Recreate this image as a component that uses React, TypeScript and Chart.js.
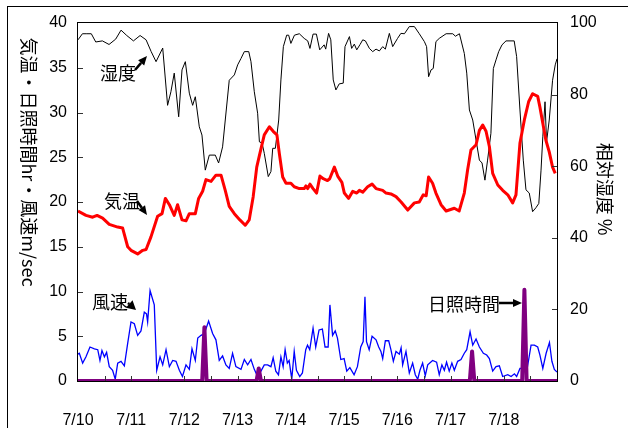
import React, { useEffect, useRef } from 'react';
import { Chart, registerables } from 'chart.js';
Chart.register(...registerables);

// hours since 7/10 00:00
const dateLabels = ['7/10', '7/11', '7/12', '7/13', '7/14', '7/15', '7/16', '7/17', '7/18'];

const humidity: [number, number][] = [
  [0, 95.3], [2, 97], [4, 97], [6, 97], [8, 94.7], [11, 95], [14, 94], [17, 95.5], [19.4, 98], [22, 96.5],
  [25, 95], [28, 96.5], [30.7, 95.3], [33, 92], [35.2, 89.2], [38.2, 93], [40.4, 77], [41.9, 80.8], [43.4, 86],
  [45.4, 73.8], [46.9, 86.9], [48.4, 89.2], [50.2, 80.4], [51.7, 77], [52.9, 79.4], [54.7, 71], [55.9, 68.7],
  [57.4, 58.9], [59.2, 63.1], [61.9, 63.1], [63.4, 60.9], [65.2, 65.4], [68.2, 84], [70.5, 85.5], [72, 88.3],
  [73.5, 90.1], [75, 92], [77, 92], [78, 89.2], [79.5, 80.8], [81, 74.8], [81.8, 66.8], [83, 66.5], [84, 63.6],
  [85.8, 57.1], [87, 58.5], [87.8, 65], [89, 65], [90.5, 72.9], [91.5, 84.1], [92.6, 93.4], [94.1, 96.6],
  [95, 96.6], [96, 94.3], [97.6, 96.6], [99.8, 97], [102, 95.7], [103.6, 95], [104.6, 92.9], [106, 96.9],
  [107.5, 96.9], [109, 92.5], [111, 93.9], [111.7, 92.7], [113, 97.1], [114, 95.3], [115.1, 84.1], [116.3, 81.3],
  [117.8, 83], [119.6, 83.2], [120.4, 93.4], [122.4, 96.2], [123.4, 92.9], [124.6, 94.1], [125.7, 92.5],
  [127.2, 94], [128.4, 95.3], [129.6, 95], [131.4, 92.9], [132.9, 92], [134.4, 92.7], [135.9, 92.2],
  [137.4, 93.4], [138.6, 92.7], [140.4, 97.1], [141.9, 93.4], [144.1, 95.7], [145.6, 97.1], [147.2, 97],
  [149.4, 99], [151.7, 99], [153.9, 97], [156.2, 94.8], [157.2, 93.4], [158.1, 85], [159.2, 86.9], [160.2, 87.3],
  [161.4, 94.8], [162.9, 95.7], [166, 97], [169, 97], [170.2, 96.3], [172, 97], [174.2, 91.5], [175.3, 86],
  [176.5, 75.7], [178, 72.9], [179.5, 67.3], [181, 61.7], [182.2, 60.9], [183.5, 56.1], [184.7, 61.7],
  [186.2, 69.2], [187.3, 87.3], [188.5, 89.7], [189.7, 92], [191.2, 93.9], [193, 95], [196.7, 95], [197.8, 90.6],
  [199.3, 75.7], [200.8, 61.7], [202, 53.4], [203.5, 52.5], [205, 47.3], [206.5, 48.4], [207.8, 49.6],
  [208.8, 58.9], [209.6, 68.2], [210.6, 78], [211.3, 66.8], [212.5, 72.9], [214, 84], [215.2, 88.3], [216, 90],
];

const temperature: [number, number][] = [
  [0, 19.0], [3.6, 18.5], [6.6, 18.3], [8.6, 18.5], [11.1, 18.2], [14.1, 17.5], [17.9, 17.2], [20.1, 17.1],
  [22.4, 15.0], [23.9, 14.6], [26.9, 14.2], [29.2, 14.6], [30.7, 14.7], [32.9, 16.1], [35.9, 18.4], [37.9, 18.7],
  [39.4, 20.4], [41.2, 19.7], [43.4, 18.5], [44.9, 19.7], [46.9, 18.0], [48.7, 17.9], [50.2, 18.7], [52.9, 18.7],
  [54.4, 20.4], [56.2, 21.2], [57.7, 22.5], [60, 22.3], [62.2, 23.0], [64.5, 23.0], [66.4, 21.3], [68.2, 19.5],
  [70.5, 18.7], [73, 18.0], [75.4, 17.4], [77.2, 18.0], [79, 20.6], [80.6, 23.9], [82, 25.4], [84, 27.5],
  [86.3, 28.4], [88, 27.9], [89.7, 27.5], [90.8, 25.4], [92.3, 22.8], [93.8, 22.1], [96, 22.1], [97.5, 21.7],
  [99.8, 21.5], [102, 21.5], [102.8, 21.8], [103.6, 21.5], [104.6, 22.0], [106, 21.5], [107.6, 21.0],
  [109.1, 22.9], [110.6, 22.6], [112.5, 22.4], [113.5, 22.6], [115.6, 23.9], [117.1, 22.9], [119, 22.2],
  [120.1, 21.0], [122, 20.4], [123.9, 21.2], [125.7, 21.0], [126.9, 21.3], [128.4, 21.1], [130.6, 21.7],
  [132.6, 22.0], [134.4, 21.5], [137.4, 21.3], [138.9, 21.0], [141.1, 20.9], [143.4, 20.6], [145.7, 20.0],
  [148.7, 19.1], [151.7, 19.9], [153.9, 20.0], [155.7, 20.8], [157, 20.7], [158.1, 22.8], [159.9, 22.1],
  [161.4, 21.0], [163.7, 19.7], [166, 19.0], [169.7, 19.3], [171.9, 19.0], [174.2, 21.0], [175.7, 23.6],
  [177.2, 25.8], [179.5, 26.4], [181, 28.0], [182.5, 28.6], [184, 27.9], [185.5, 26.2], [187, 23.2],
  [189.3, 21.9], [191.5, 21.3], [193.8, 20.8], [196, 19.9], [197.5, 20.8], [199.3, 26.6], [201.3, 29.2],
  [203.2, 31.2], [205, 32.1], [207.3, 31.8], [208.3, 30.6], [209.6, 28.8], [211, 26.9], [212.5, 25.6],
  [214, 23.9], [215.2, 23.2],
];

const windSpeed: [number, number][] = [
  [0, 3.0], [0.6, 3.1], [2.1, 2.0], [3.6, 2.7], [5.4, 3.8], [7.4, 3.6], [8.9, 3.5], [9.9, 2.3], [10.8, 3.4],
  [11.9, 2.7], [12.9, 3.2], [14.1, 1.6], [15.6, 1.2], [16.8, 0.2], [17.9, 2.0], [19.4, 2.2], [20.9, 1.7],
  [22.4, 4.2], [23.9, 6.6], [25.4, 6.4], [26.9, 5.1], [28.4, 5.6], [29.9, 7.7], [30.9, 7.5], [31.4, 6.6],
  [32.5, 10.1], [34.4, 8.5], [35.5, 1.2], [37, 2.7], [38.2, 1.8], [39.7, 3.5], [41.2, 1.6], [42.7, 2.3],
  [44.2, 2.2], [45.7, 1.2], [47.1, 0.5], [48.7, 1.8], [50.2, 1.3], [51.4, 3.6], [52.9, 2.3], [54, 4.8],
  [55.5, 5.1], [57, 5.3], [58.9, 6.7], [60.7, 5.3], [62.2, 4.6], [63.7, 2.3], [65.2, 2.8], [66.7, 1.8],
  [68.2, 1.4], [69.7, 3.1], [71.2, 1.6], [73.5, 1.3], [75, 2.4], [76.5, 1.8], [78, 2.4], [79.5, 1.3], [81, 0.5],
  [82.5, 1.1], [84, 1.8], [85.5, 1.8], [87, 1.6], [88, 2.6], [89.2, 1.1], [90.4, 0.7], [91.5, 2.7], [92.5, 1.6],
  [93.4, 3.5], [94.4, 2.0], [95.2, 2.3], [96.4, 0.2], [97.5, 3.3], [98.5, 1.2], [100, 0.5], [101.2, 0.9],
  [102.7, 3.5], [103.5, 4.0], [104.5, 3.5], [106, 5.9], [107.2, 3.8], [108.7, 5.7], [110.2, 5.8], [111.4, 3.8],
  [112.8, 3.8], [113.6, 8.5], [114.8, 5.1], [116, 5.6], [117, 4.8], [118.5, 2.4], [120, 2.5], [121.2, 1.1],
  [122.6, 1.5], [124.5, 0.7], [126, 1.6], [127.5, 3.8], [128.6, 4.4], [129.4, 9.4], [130.1, 4.4], [131.3, 3.5],
  [132.6, 5.0], [134.4, 4.6], [135.6, 3.8], [136.6, 3.3], [137.4, 2.5], [138.6, 4.5], [140.1, 4.5], [141.1, 3.5],
  [142.2, 2.2], [143.4, 3.3], [144.9, 3.0], [145.7, 3.7], [146.4, 1.8], [147.9, 3.3], [149.4, 0.9], [150.9, 2.0],
  [152.1, 0.7], [153.2, 0.2], [154.2, 1.2], [155.4, 2.0], [156.6, 0.6], [157.7, 1.8], [159.9, 2.3], [161.7, 2.1],
  [162.9, 0.7], [164.1, 1.8], [165.2, 1.2], [166.2, 2.1], [167.4, 1.1], [168.6, 2.0], [169.7, 1.2], [171.2, 2.2],
  [172.7, 2.4], [174.2, 3.1], [175.3, 3.5], [176.8, 5.5], [178, 4.0], [179.5, 4.7], [181, 3.8], [182.8, 3.1],
  [184.3, 2.9], [185.5, 2.5], [187, 1.1], [188.5, 1.6], [190, 1.7], [191.5, 0.5], [193.8, 0.7], [195.3, 0.5],
  [196.8, 0.8], [197.8, 0.5], [199.3, 1.4], [201.3, 1.4], [202.7, 1.6], [204.3, 4.0], [205.8, 4.0], [207.3, 3.8],
  [208.3, 2.9], [209.6, 1.4], [211.1, 3.1], [212.6, 4.3], [213.7, 2.2], [214.8, 1.3], [216, 1.0],
];

const sunshine: [number, number][] = [
  [0, 0], [56, 0], [57, 6.0], [58, 0], [80.5, 0], [81.5, 1.4], [82.5, 0], [176.7, 0], [177.7, 3.3], [178.7, 0],
  [200.3, 0], [201.3, 10.2], [202.3, 0], [216, 0],
];

const leftTitle = '気温・日照時間hr・風速m/sec';
const rightTitle = '相対湿度 %';

const pts = (a: [number, number][]) => a.map(([x, y]) => ({ x, y }));

const NUM_FONT = "'Liberation Sans', Arial, sans-serif";
const JP_FONT = "'Noto Sans CJK JP', sans-serif";

function arrow(ctx: CanvasRenderingContext2D, x1: number, y1: number, x2: number, y2: number, head = 9, w = 4) {
  const ang = Math.atan2(y2 - y1, x2 - x1);
  const bx = x2 - head * Math.cos(ang);
  const by = y2 - head * Math.sin(ang);
  ctx.beginPath();
  ctx.moveTo(x1, y1);
  ctx.lineTo(bx, by);
  ctx.lineWidth = 2.5;
  ctx.stroke();
  ctx.beginPath();
  ctx.moveTo(x2, y2);
  ctx.lineTo(bx + w * Math.sin(ang), by - w * Math.cos(ang));
  ctx.lineTo(bx - w * Math.sin(ang), by + w * Math.cos(ang));
  ctx.closePath();
  ctx.fill();
}

export default function App() {
  const ref = useRef<HTMLCanvasElement>(null);
  useEffect(() => {
    const canvas = ref.current!;
    const decor = {
      id: 'decor',
      afterDraw(chart: any) {
        const { ctx, chartArea: a, scales } = chart;
        ctx.save();
        // outer frame
        ctx.strokeStyle = '#000';
        ctx.lineWidth = 1;
        ctx.strokeRect(7.5, 6.5, 700, 500);
        // plot border
        ctx.strokeRect(Math.round(a.left) - 0.5, Math.round(a.top) - 0.5, Math.round(a.right - a.left) + 1, Math.round(a.bottom - a.top) + 1);
        // inside ticks
        ctx.strokeStyle = '#333';
        ctx.beginPath();
        for (let v = 5; v < 40; v += 5) {
          const y = Math.round(scales.y.getPixelForValue(v)) + 0.5;
          ctx.moveTo(a.left, y); ctx.lineTo(a.left + 5, y);
        }
        for (let v = 20; v < 100; v += 20) {
          const y = Math.round(scales.y2.getPixelForValue(v)) + 0.5;
          ctx.moveTo(a.right - 5, y); ctx.lineTo(a.right, y);
        }
        for (let h = 12; h < 216; h += 12) {
          const x = Math.round(scales.x.getPixelForValue(h)) + 0.5;
          ctx.moveTo(x, a.bottom); ctx.lineTo(x, a.bottom - 5);
        }
        ctx.stroke();
        // axis titles
        ctx.fillStyle = '#000';
        ctx.font = `18px ${JP_FONT}`;
        ctx.textAlign = 'center';
        ctx.textBaseline = 'middle';
        ctx.save();
        ctx.translate(29, 162);
        ctx.rotate(Math.PI / 2);
        ctx.fillText(leftTitle, 0, 0);
        ctx.restore();
        ctx.save();
        ctx.translate(605, 189);
        ctx.rotate(Math.PI / 2);
        ctx.fillText(rightTitle, 0, 0);
        ctx.restore();
        // annotations
        ctx.font = `18px ${JP_FONT}`;
        ctx.textAlign = 'left';
        ctx.fillText('湿度', 100, 73);
        ctx.fillText('気温', 104, 201);
        ctx.fillText('風速', 92, 302);
        ctx.fillText('日照時間', 428, 304);
        ctx.strokeStyle = '#000';
        arrow(ctx, 135, 70, 147, 56);
        arrow(ctx, 137, 201, 147, 215);
        arrow(ctx, 128, 303, 136, 310, 9, 5);
        arrow(ctx, 499, 303, 522, 303);
        ctx.restore();
      },
    };
    const chart = new Chart(canvas, {
      type: 'line',
      data: {
        datasets: [
          { label: '湿度', data: pts(humidity), yAxisID: 'y2', borderColor: '#000', borderWidth: 1, pointRadius: 0, order: 4 },
          { label: '気温', data: pts(temperature), yAxisID: 'y', borderColor: '#ff0000', borderWidth: 3, pointRadius: 0, borderJoinStyle: 'round', order: 3 },
          { label: '風速', data: pts(windSpeed), yAxisID: 'y', borderColor: '#0000ff', borderWidth: 1.3, pointRadius: 0, order: 2 },
          { label: '日照時間', data: pts(sunshine), yAxisID: 'y', borderColor: '#800080', borderWidth: 4, pointRadius: 0, borderJoinStyle: 'round', order: 1 },
        ],
      },
      options: {
        responsive: false,
        animation: false,
        devicePixelRatio: 1,
        layout: { padding: { top: 23, left: 0, right: 0, bottom: 0 } },
        plugins: { legend: { display: false }, tooltip: { enabled: false } },
        scales: {
          x: {
            type: 'linear', min: 0, max: 216,
            grid: { display: false, drawTicks: false }, border: { display: false },
            afterFit: (s: any) => { s.height = 47; },
            ticks: {
              stepSize: 24, autoSkip: false, maxRotation: 0, padding: 30, color: '#000',
              font: { family: NUM_FONT, size: 16 },
              callback: (v: any) => (v % 24 === 0 && dateLabels[v / 24] !== undefined ? dateLabels[v / 24] : ''),
            },
          },
          y: {
            position: 'left', min: 0, max: 40,
            grid: { display: false, drawTicks: false }, border: { display: false },
            afterFit: (s: any) => { s.width = 78; },
            ticks: { stepSize: 5, padding: 11, color: '#000', font: { family: NUM_FONT, size: 16 } },
          },
          y2: {
            position: 'right', min: 0, max: 100,
            grid: { display: false, drawTicks: false }, border: { display: false },
            afterFit: (s: any) => { s.width = 71; },
            ticks: { stepSize: 20, padding: 13, color: '#000', font: { family: NUM_FONT, size: 16 } },
          },
        },
      } as any,
      plugins: [decor],
    });
    return () => chart.destroy();
  }, []);
  return (
    <div style={{ position: 'fixed', left: 0, top: 0, width: 628, height: 428, background: '#fff' }}>
      <canvas ref={ref} width={628} height={428} style={{ width: 628, height: 428, display: 'block' }} />
    </div>
  );
}
